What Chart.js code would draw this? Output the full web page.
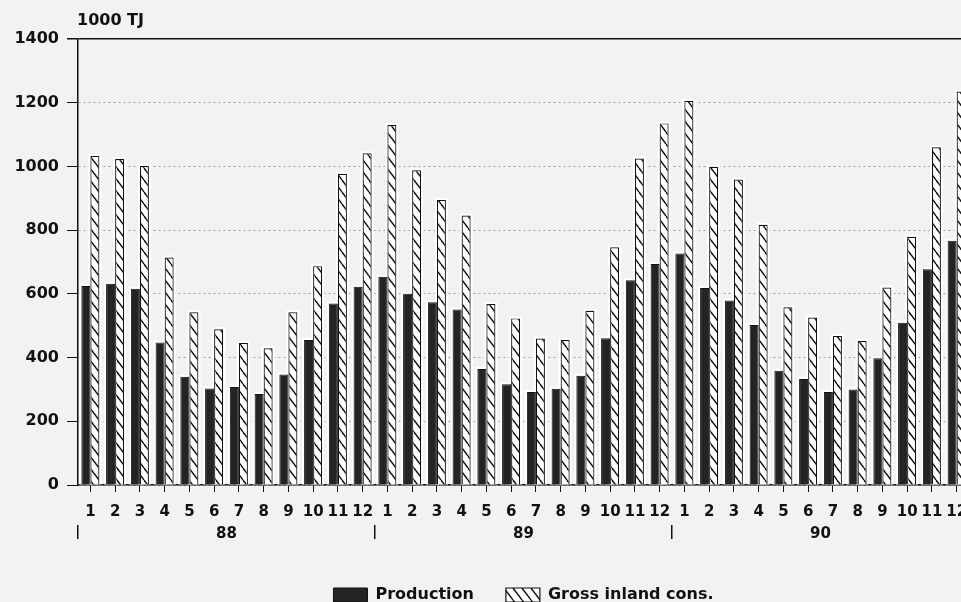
<!DOCTYPE html>
<html lang="en">
<head>
    <meta charset="UTF-8">
    <title>Production and gross inland consumption</title>
    <script src="https://cdn.jsdelivr.net/npm/chart.js"></script>
    <style>
        html, body { margin: 0; padding: 0; background: #f2f2f2; overflow: hidden; }
        #energyChart { display: block; }
    </style>
</head>
<body>
    <canvas id="energyChart" width="980" height="602"></canvas>

    <script>
        // monthly values, 1000 TJ
        const months = ['1','2','3','4','5','6','7','8','9','10','11','12',
                        '1','2','3','4','5','6','7','8','9','10','11','12',
                        '1','2','3','4','5','6','7','8','9','10','11','12'];
        const years = ['88', '89', '90'];
        const production = [625, 632, 616, 447, 340, 303, 308, 286, 347, 455, 570, 622,
                            654, 600, 574, 551, 364, 316, 292, 302, 343, 461, 643, 694,
                            727, 618, 579, 502, 359, 333, 292, 300, 398, 509, 677, 767];
        const grossInland = [1033, 1023, 1001, 714, 542, 489, 446, 429, 542, 687, 977, 1041,
                             1130, 988, 895, 846, 568, 523, 460, 455, 547, 746, 1025, 1135,
                             1206, 999, 959, 817, 558, 526, 468, 452, 620, 779, 1060, 1235];
        const unitLabel = '1000 TJ';

        const ink = '#111';
        const tickFont = { family: '"DejaVu Sans"', size: 15, weight: 'bold' };
        const bigFont = { family: '"DejaVu Sans"', size: 16, weight: 'bold' };

        const canvas = document.getElementById('energyChart');
        const ctx = canvas.getContext('2d');

        // back-slash hatch for the consumption bars
        function makeHatch() {
            const tile = document.createElement('canvas');
            tile.width = 9;
            tile.height = 12;
            const g = tile.getContext('2d');
            g.fillStyle = '#fff';
            g.fillRect(0, 0, 9, 12);
            g.strokeStyle = ink;
            g.lineWidth = 1.4;
            [-9, 0, 9].forEach(dx => {
                g.beginPath();
                g.moveTo(dx, 0);
                g.lineTo(dx + 9, 12);
                g.stroke();
            });
            return ctx.createPattern(tile, 'repeat');
        }
        const hatch = makeHatch();

        const unitTitle = {
            id: 'unitTitle',
            afterDraw(chart) {
                const c = chart.ctx;
                c.save();
                c.font = 'bold 16px "DejaVu Sans"';
                c.fillStyle = ink;
                c.textBaseline = 'middle';
                c.fillText(unitLabel, chart.chartArea.left - 1, chart.chartArea.top - 18);
                c.restore();
            }
        };

        // white rim the scan shows round every bar
        const barHalo = {
            id: 'barHalo',
            beforeDatasetsDraw(chart) {
                const c = chart.ctx;
                c.save();
                c.fillStyle = '#fff';
                chart.data.datasets.forEach((ds, i) => {
                    chart.getDatasetMeta(i).data.forEach(bar => {
                        const p = bar.getProps(['x', 'y', 'base', 'width'], true);
                        c.fillRect(p.x - p.width / 2 - 2, p.y - 2, p.width + 4, p.base - p.y + 2);
                    });
                });
                c.restore();
            }
        };

        const isTop = c => c.tick && c.tick.value === 1400;

        new Chart(ctx, {
            type: 'bar',
            data: {
                labels: months,
                datasets: [{
                    label: 'Production',
                    data: production,
                    xAxisID: 'x',
                    backgroundColor: '#242424',
                    borderColor: ink,
                    borderWidth: 1,
                    barPercentage: 1,
                    categoryPercentage: 0.73
                }, {
                    label: 'Gross inland cons.',
                    data: grossInland,
                    xAxisID: 'x',
                    backgroundColor: hatch,
                    borderColor: ink,
                    borderWidth: 1.2,
                    barPercentage: 1,
                    categoryPercentage: 0.73
                }]
            },
            options: {
                responsive: false,
                animation: false,
                layout: { padding: { left: 0, right: 11, top: 39, bottom: 0 } },
                plugins: {
                    legend: {
                        position: 'bottom',
                        fullSize: false,
                        maxHeight: 47,
                        labels: {
                            boxWidth: 34,
                            boxHeight: 14,
                            padding: 32,
                            color: ink,
                            font: bigFont
                        }
                    },
                    tooltip: { enabled: false }
                },
                scales: {
                    x: {
                        weight: 0,
                        grid: { offset: false, drawOnChartArea: false, tickLength: 7, color: ink },
                        border: { color: ink, width: 1.5 },
                        ticks: { color: ink, padding: 11, font: tickFont, autoSkip: false, maxRotation: 0, minRotation: 0 },
                        afterFit: s => { s.height = 40; }
                    },
                    year: {
                        type: 'category',
                        position: 'bottom',
                        weight: 1,
                        labels: years,
                        offset: true,
                        grid: { offset: true, drawOnChartArea: false, tickLength: 14, color: ink, lineWidth: 1.5 },
                        border: { display: false },
                        ticks: { color: ink, padding: -14, font: tickFont, autoSkip: false, maxRotation: 0, minRotation: 0 },
                        afterFit: s => { s.height = 30; }
                    },
                    y: {
                        min: 0,
                        max: 1400,
                        ticks: { stepSize: 200, color: ink, padding: 8, font: bigFont, callback: v => String(v) },
                        grid: {
                            color: c => isTop(c) ? ink : '#a0a0a0',
                            lineWidth: c => isTop(c) ? 1.5 : 1,
                            tickLength: 11,
                            tickColor: ink
                        },
                        border: { color: ink, width: 1.5, dash: c => isTop(c) ? [] : [2, 3] },
                        afterFit: s => { s.width = 78; }
                    }
                }
            },
            plugins: [barHalo, unitTitle]
        });
    </script>
</body>
</html>
